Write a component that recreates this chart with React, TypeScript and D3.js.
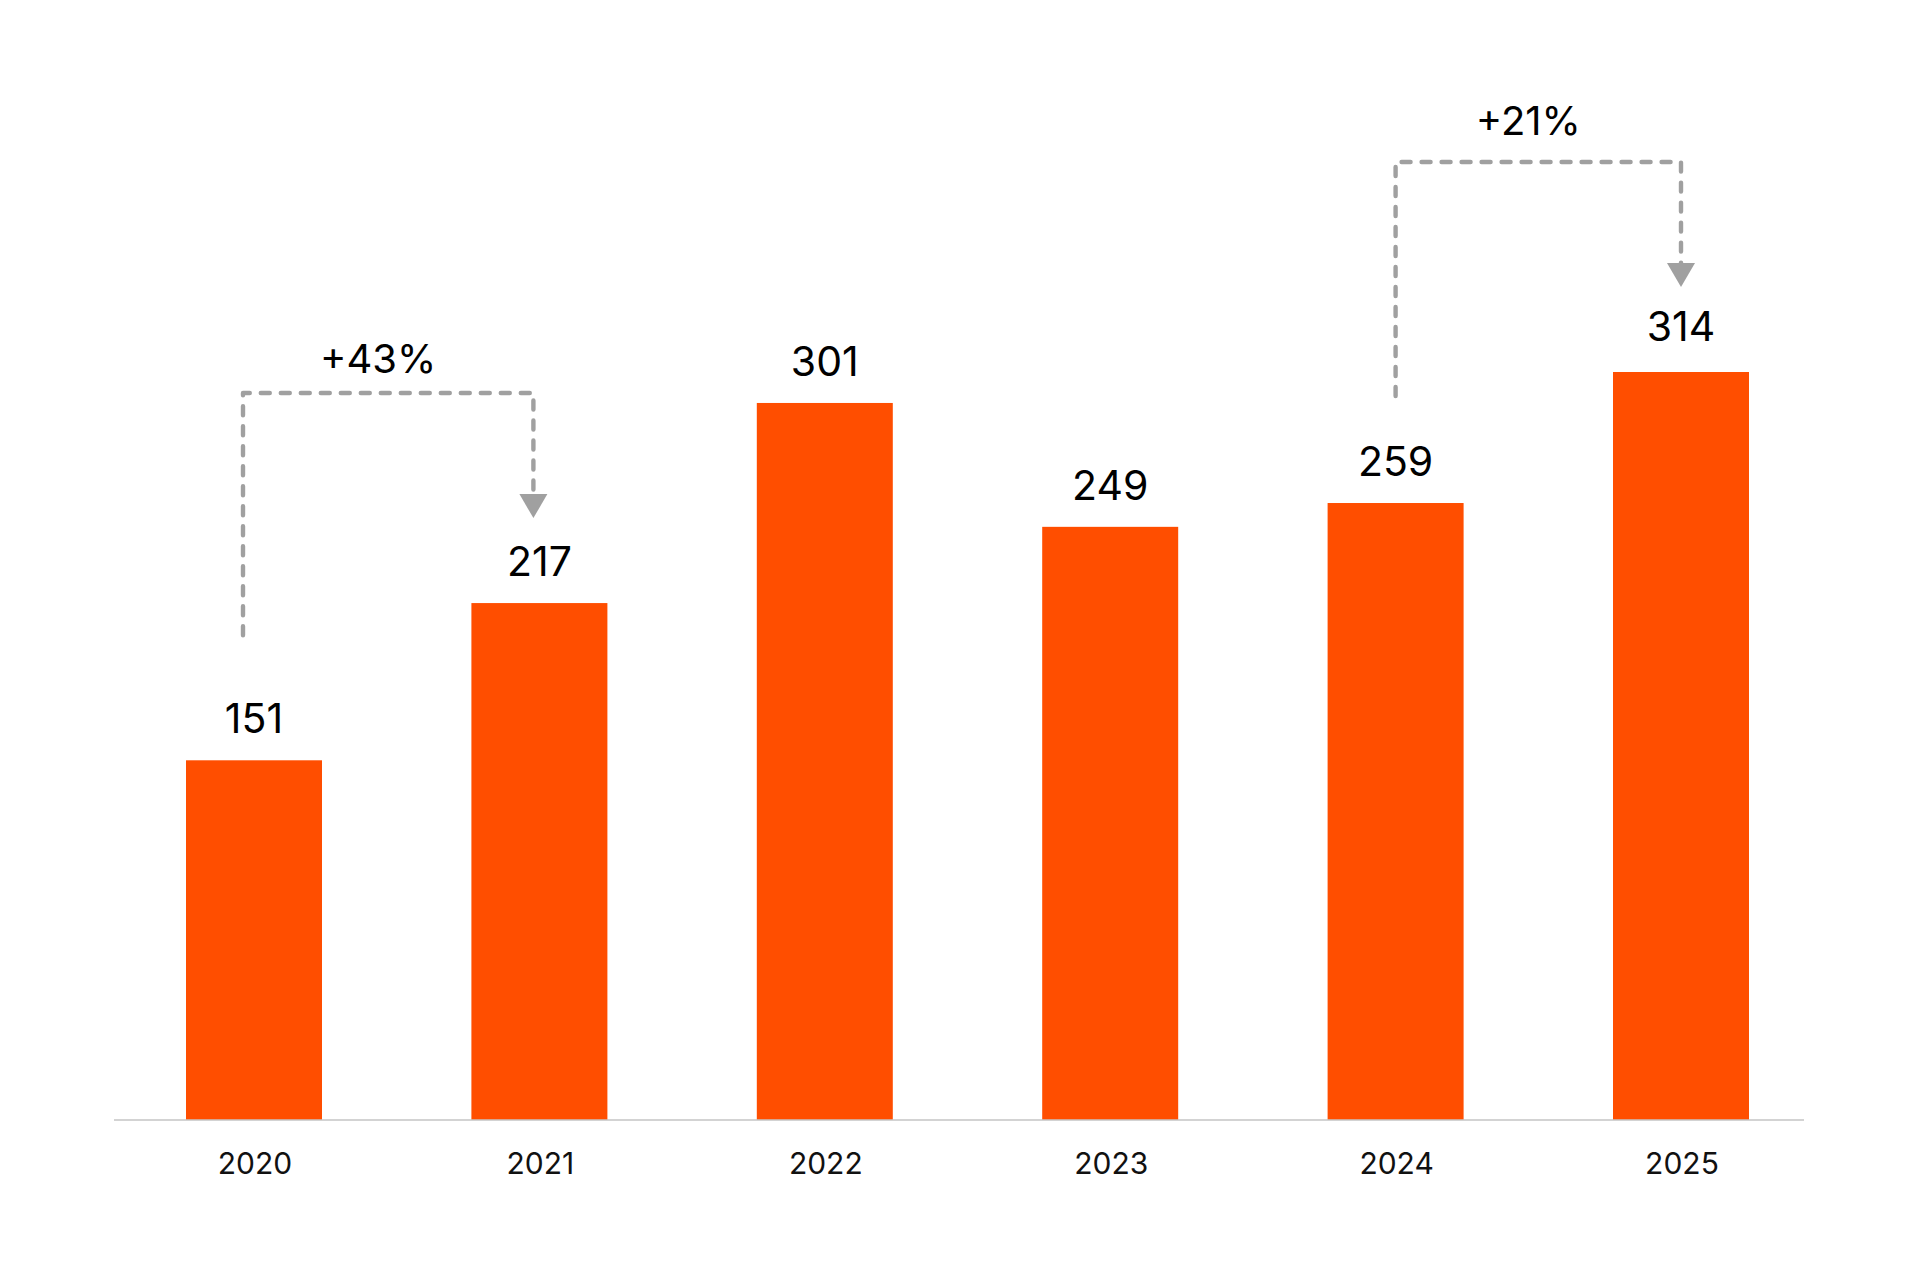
import React from "react";
import * as d3 from "d3";

const years: string[] = ["2020", "2021", "2022", "2023", "2024", "2025"];
const values: number[] = [151, 217, 301, 249, 259, 314];
const annotations = [
  { from: 0, to: 1, label: "+43%" },
  { from: 4, to: 5, label: "+21%" },
];
// per-annotation layout tweaks (pixels)
const annoLayout = [
  { dx1: -11, dx2: -6, startGap: 125, labelGap: 20 },
  { dx1: 0, dx2: 0, startGap: 107, labelGap: 27 },
];

const W = 1920;
const H = 1284;
const BASE = 1120;
const BAR_COLOR = "#ff4e00";
const GREY = "#a0a0a0";
const FONT = "Inter, 'Noto Sans', sans-serif";

export default function App() {
  const step = 285.4;
  const firstCenter = 254;
  const x = d3
    .scaleBand<string>()
    .domain(years)
    .range([firstCenter - step / 2, firstCenter - step / 2 + step * years.length])
    .paddingInner(0.5235)
    .paddingOuter(0.26175);
  const y = d3.scaleLinear().domain([0, 314]).range([BASE, 372]);
  const bw = x.bandwidth();
  const cx = (i: number) => (x(years[i]) as number) + bw / 2;

  return (
    <svg
      width={W}
      height={H}
      style={{ position: "absolute", left: 0, top: 0, background: "#fff" }}
    >
      <rect width={W} height={H} fill="#fff" />
      {values.map((v, i) => (
        <rect
          key={"b" + i}
          x={x(years[i])}
          y={y(v)}
          width={bw}
          height={BASE - y(v)}
          fill={BAR_COLOR}
        />
      ))}
      <line x1={114} x2={1804} y1={BASE} y2={BASE} stroke="#c4c4c4" strokeWidth={1.6} />
      {values.map((v, i) => (
        <text
          key={"v" + i}
          x={cx(i)}
          y={y(v) - (i === values.length - 1 ? 31 : 27)}
          textAnchor="middle"
          fontFamily={FONT}
          fontSize={41}
          fill="#000"
        >
          {v}
        </text>
      ))}
      {years.map((yr, i) => (
        <text
          key={"y" + i}
          x={cx(i) + 1}
          y={1174}
          textAnchor="middle"
          fontFamily={FONT}
          fontSize={30}
          fill="#111"
        >
          {yr}
        </text>
      ))}
      {annotations.map((a, k) => {
        const lay = annoLayout[k];
        const x1 = cx(a.from) + lay.dx1;
        const x2 = cx(a.to) + lay.dx2;
        const top = Math.min(y(values[a.from]), y(values[a.to])) - 210;
        const start = y(values[a.from]) - lay.startGap;
        const tip = y(values[a.to]) - 85;
        const arrowH = 24;
        const arrowW = 28;
        const path = d3.path();
        path.moveTo(x1, start);
        path.lineTo(x1, top);
        path.lineTo(x2, top);
        path.lineTo(x2, tip - arrowH);
        return (
          <g key={"a" + k}>
            <path
              d={path.toString()}
              fill="none"
              stroke={GREY}
              strokeWidth={4.4}
              strokeDasharray="9 11"
              strokeLinecap="round"
              strokeLinejoin="round"
            />
            <path
              d={`M${x2 - arrowW / 2},${tip - arrowH}L${x2 + arrowW / 2},${tip - arrowH}L${x2},${tip}Z`}
              fill={GREY}
            />
            <text
              x={(x1 + x2) / 2 - 10}
              y={top - lay.labelGap}
              textAnchor="middle"
              fontFamily={FONT}
              fontSize={40}
              fill="#000"
            >
              {a.label}
            </text>
          </g>
        );
      })}
    </svg>
  );
}
